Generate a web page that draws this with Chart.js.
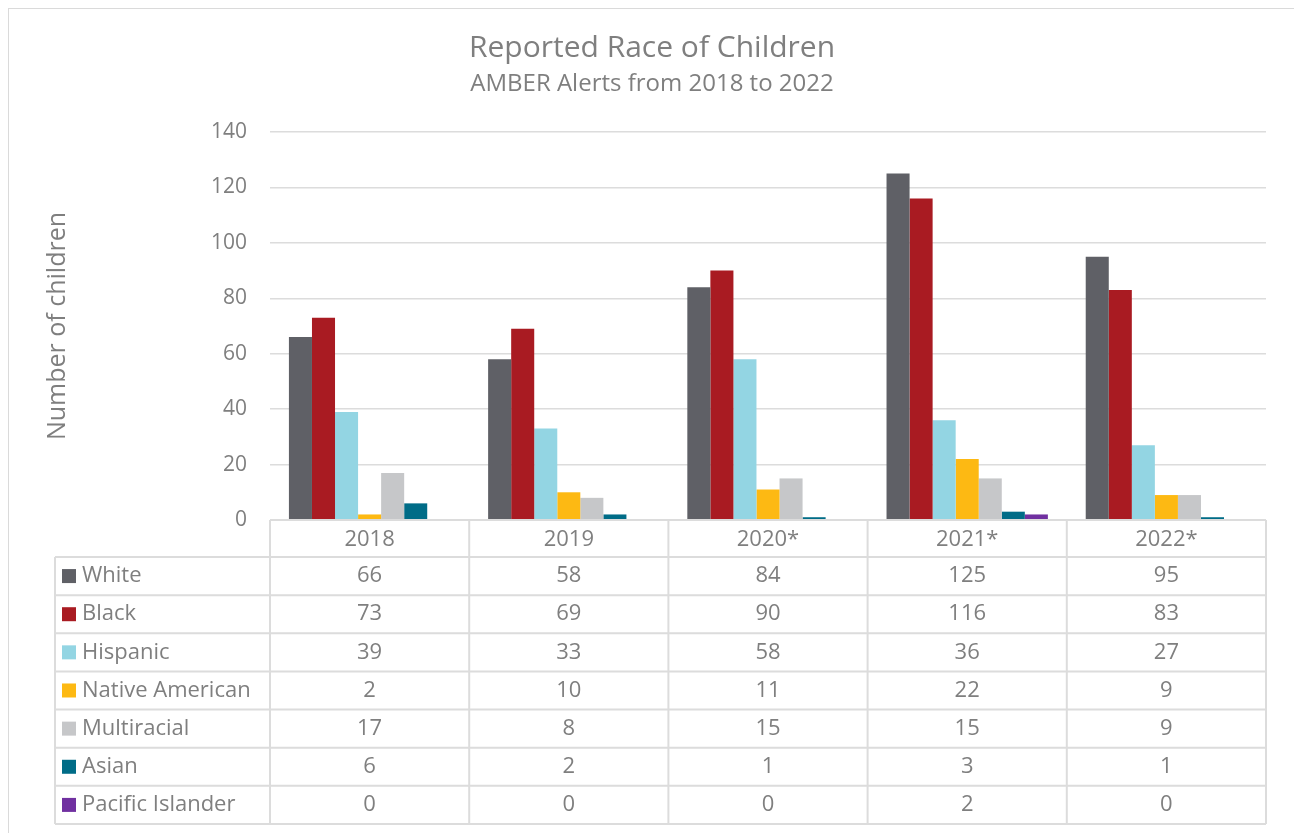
<!DOCTYPE html>
<html lang="en">
<head>
    <meta charset="UTF-8">
    <title>Reported Race of Children</title>
    <script src="https://cdn.jsdelivr.net/npm/chart.js"></script>
    <style>
        html, body { margin: 0; padding: 0; background: #fff; }
        #wrap { position: relative; width: 1294px; height: 833px; }
        #frame { position: absolute; left: 8px; top: 8px; right: -4px; bottom: -4px;
                 border-left: 1.5px solid #dadada; border-top: 1.5px solid #dadada; pointer-events: none; }
    </style>
</head>
<body>
<div id="wrap">
    <canvas id="raceChart" width="1294" height="833"></canvas>
    <div id="frame"></div>
</div>
<script>
// data
const years = ['2018', '2019', '2020*', '2021*', '2022*'];
const white = [66, 58, 84, 125, 95];
const black = [73, 69, 90, 116, 83];
const hispanic = [39, 33, 58, 36, 27];
const nativeAmerican = [2, 10, 11, 22, 9];
const multiracial = [17, 8, 15, 15, 9];
const asian = [6, 2, 1, 3, 1];
const pacificIslander = [0, 0, 0, 2, 0];
const yTicks = [0, 20, 40, 60, 80, 100, 120, 140];

const series = [
    { label: 'White', data: white, color: '#5f6066' },
    { label: 'Black', data: black, color: '#a91b22' },
    { label: 'Hispanic', data: hispanic, color: '#93d5e3' },
    { label: 'Native American', data: nativeAmerican, color: '#fdb913' },
    { label: 'Multiracial', data: multiracial, color: '#c6c7c9' },
    { label: 'Asian', data: asian, color: '#006c87' },
    { label: 'Pacific Islander', data: pacificIslander, color: '#7030a0' }
];

const FONT = '"Open Sans", Lato, sans-serif';
const GRAY = '#7f7f7f';
const LINE = '#dcdcdc';

// data table under the plot, aligned with the x scale
const dataTable = {
    id: 'dataTable',
    afterDraw(chart) {
        const ctx = chart.ctx;
        const x = chart.scales.x;
        const area = chart.chartArea;
        const n = years.length;
        const w = (area.right - area.left) / n;
        const top = area.bottom;
        const headH = 37;
        const rowH = 38.14;
        const bodyTop = top + headH;
        const bottom = bodyTop + rowH * series.length;
        const tableLeft = 55;

        ctx.save();
        ctx.strokeStyle = LINE;
        ctx.lineWidth = 2;
        ctx.beginPath();
        ctx.moveTo(area.left, top);
        ctx.lineTo(area.right, top);
        for (let r = 0; r <= series.length; r++) {
            const y = bodyTop + r * rowH;
            ctx.moveTo(tableLeft, y);
            ctx.lineTo(area.right, y);
        }
        ctx.moveTo(tableLeft, bodyTop);
        ctx.lineTo(tableLeft, bottom);
        for (let i = 0; i <= n; i++) {
            const xx = area.left + i * w;
            ctx.moveTo(xx, top);
            ctx.lineTo(xx, bottom);
        }
        ctx.stroke();

        ctx.font = '22px ' + FONT;
        ctx.fillStyle = GRAY;
        ctx.textBaseline = 'middle';
        ctx.textAlign = 'center';
        years.forEach((yr, i) => {
            ctx.fillText(yr, x.getPixelForValue(i), top + headH / 2 + 1);
        });

        series.forEach((s, r) => {
            const cy = bodyTop + r * rowH + rowH / 2;
            ctx.fillStyle = s.color;
            ctx.fillRect(62, cy - 7, 14, 14);
            ctx.fillStyle = GRAY;
            ctx.textAlign = 'left';
            ctx.fillText(s.label, 82, cy);
            ctx.textAlign = 'center';
            s.data.forEach((v, i) => {
                ctx.fillText(String(v), x.getPixelForValue(i), cy);
            });
        });
        ctx.restore();
    }
};

new Chart(document.getElementById('raceChart'), {
    type: 'bar',
    data: {
        labels: years,
        datasets: series.map(s => ({
            label: s.label,
            data: s.data,
            backgroundColor: s.color,
            borderWidth: 0,
            categoryPercentage: 0.81,
            barPercentage: 1
        }))
    },
    options: {
        responsive: false,
        animation: false,
        layout: { padding: { left: 38, right: 28, top: 0, bottom: 313 } },
        plugins: {
            legend: { display: false },
            tooltip: { enabled: false },
            title: {
                display: true,
                text: 'Reported Race of Children',
                color: GRAY,
                font: { family: FONT, size: 30, weight: 'normal' },
                padding: { top: 30, bottom: 0 }
            },
            subtitle: {
                display: true,
                text: 'AMBER Alerts from 2018 to 2022',
                color: GRAY,
                font: { family: FONT, size: 24, weight: 'normal' },
                padding: { top: 3.6, bottom: 33.6 }
            }
        },
        scales: {
            x: { display: false },
            y: {
                min: 0,
                max: 140,
                afterBuildTicks(scale) { scale.ticks = yTicks.map(v => ({ value: v })); },
                afterFit(scale) { scale.width = 232; },
                ticks: { color: GRAY, padding: 23, font: { family: FONT, size: 21 } },
                grid: { color: LINE, lineWidth: 1.5, drawTicks: false },
                border: { display: false },
                title: {
                    display: true,
                    text: 'Number of children',
                    color: GRAY,
                    font: { family: FONT, size: 25 },
                    padding: { top: 5, bottom: 0 }
                }
            }
        }
    },
    plugins: [dataTable]
});
</script>
</body>
</html>
